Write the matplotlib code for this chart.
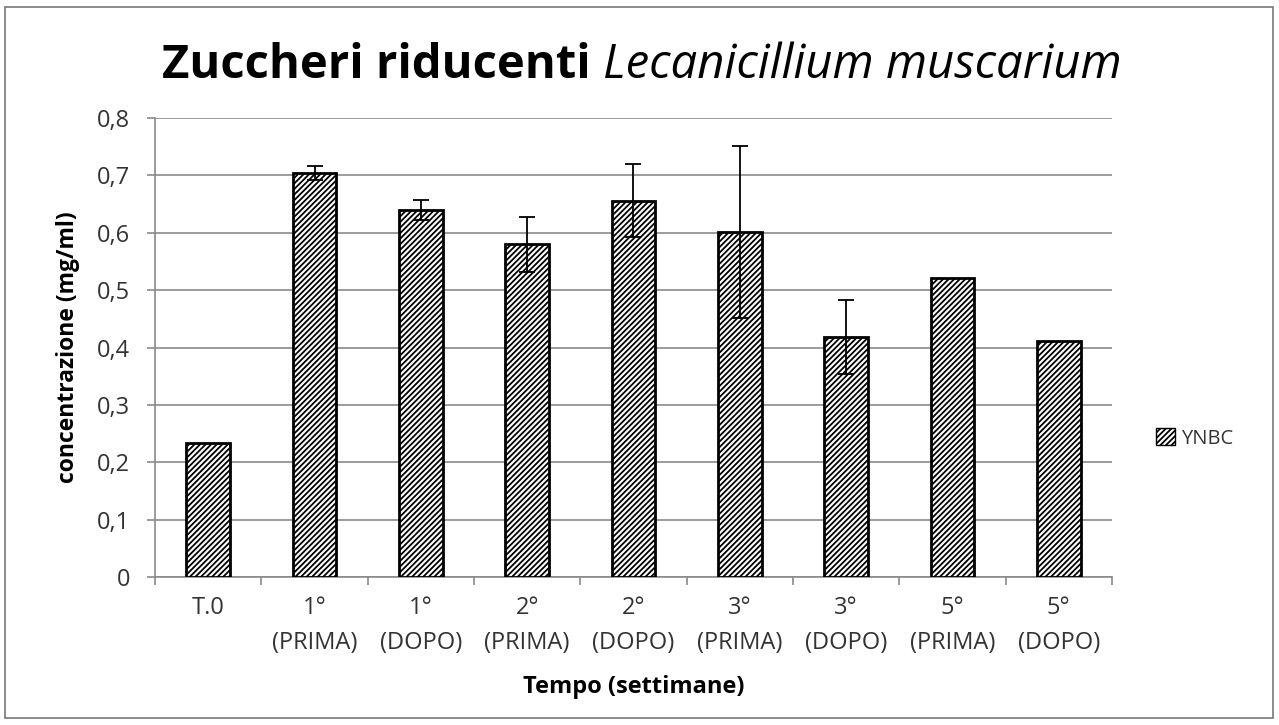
import numpy as np
import matplotlib
matplotlib.use('Agg')
import matplotlib.pyplot as plt
from matplotlib.patches import Rectangle, Patch

# Data
categories = ['T.0', '1°\n(PRIMA)', '1°\n(DOPO)', '2°\n(PRIMA)', '2°\n(DOPO)',
              '3°\n(PRIMA)', '3°\n(DOPO)', '5°\n(PRIMA)', '5°\n(DOPO)']
values = [0.233, 0.704, 0.640, 0.580, 0.656, 0.601, 0.418, 0.521, 0.411]
errors = [0.0, 0.012, 0.017, 0.048, 0.064, 0.150, 0.065, 0.0, 0.0]
yticks = [0, 0.1, 0.2, 0.3, 0.4, 0.5, 0.6, 0.7, 0.8]
ytick_labels = ['0', '0,1', '0,2', '0,3', '0,4', '0,5', '0,6', '0,7', '0,8']

plt.rcParams['font.family'] = ['Open Sans', 'DejaVu Sans']
plt.rcParams['hatch.linewidth'] = 1.3

fig = plt.figure(figsize=(12.79, 7.25), dpi=100)
ax = fig.add_axes([0.1212, 0.2041, 0.7482, 0.6331])

x = np.arange(len(categories))
ax.bar(x, values, width=0.41, color='white', edgecolor='black', linewidth=2.0,
       hatch='//////', zorder=3, label='YNBC')

# error bars only where present
err = np.array(errors)
mask = err > 0
ax.errorbar(x[mask], np.array(values)[mask], yerr=err[mask], fmt='none',
            ecolor='black', elinewidth=1.3, capsize=6, capthick=1.3, zorder=4)

ax.set_xlim(-0.5, len(categories) - 0.5)
ax.set_ylim(0, 0.8)
ax.set_yticks(yticks)
ax.set_yticklabels(ytick_labels, fontsize=17, color='#333333')
ax.yaxis.grid(True, color='#8a8a8a', linewidth=1.2, zorder=0)
ax.set_xticks(x)
ax.set_xticklabels(categories, fontsize=17, color='#333333', linespacing=1.6)
ax.set_xticks(np.arange(-0.5, len(categories)), minor=True)
ax.tick_params(axis='x', which='major', length=0, pad=14)
ax.tick_params(axis='x', which='minor', length=6, color='#8a8a8a', width=1.2, direction='out')
ax.tick_params(axis='y', length=6, color='#8a8a8a', width=1.2, pad=12)

for side in ['top', 'right']:
    ax.spines[side].set_visible(False)
ax.spines['left'].set_color('#8a8a8a')
ax.spines['bottom'].set_color('#8a8a8a')
ax.spines['left'].set_linewidth(1.2)
ax.spines['bottom'].set_linewidth(1.2)

ax.set_ylabel('concentrazione (mg/ml)', fontsize=16.5, fontweight='bold', labelpad=12)
ax.set_xlabel('Tempo (settimane)', fontsize=17, fontweight='bold', labelpad=14)

leg = fig.legend(handles=[Patch(facecolor='white', edgecolor='black', hatch='//////', label='YNBC')],
                 loc='center left', bbox_to_anchor=(0.89, 0.395), frameon=False,
                 fontsize=14.5, handlelength=0.9, handleheight=0.9, handletextpad=0.3)
for t in leg.get_texts():
    t.set_color('#333333')

# outer chart border
fig.patches.append(Rectangle((5 / 1279, 7 / 725), 1268 / 1279, 711 / 725,
                             transform=fig.transFigure, fill=False,
                             edgecolor='#777777', linewidth=1.2))

# title: bold part followed by italic part
fig.canvas.draw()
r = fig.canvas.get_renderer()
t1 = fig.text(0, 0.91, 'Zuccheri riducenti ', fontsize=34, fontweight='bold', va='center')
t2 = fig.text(0, 0.91, 'Lecanicillium muscarium', fontsize=34, style='italic', va='center')
w1 = t1.get_window_extent(r).width / fig.bbox.width
w2 = t2.get_window_extent(r).width / fig.bbox.width
x0 = 0.5 - (w1 + w2) / 2 + 0.002
t1.set_x(x0)
t2.set_x(x0 + w1)

fig.savefig('out.png', dpi=100)
